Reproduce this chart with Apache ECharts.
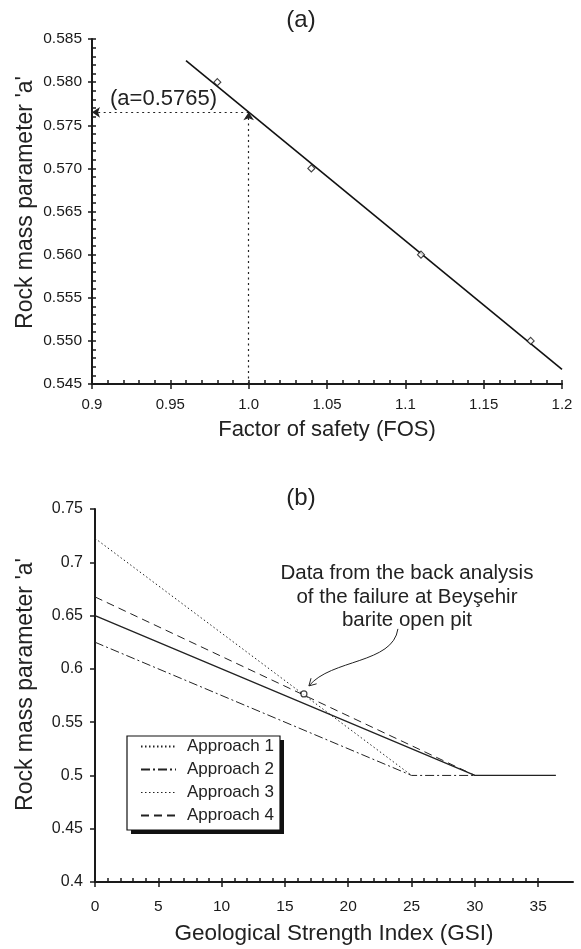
<!DOCTYPE html>
<html><head><meta charset="utf-8">
<script src="https://cdn.jsdelivr.net/npm/echarts@6/dist/echarts.min.js"></script>
<style>html,body{margin:0;padding:0;background:#fff}#c{width:581px;height:949px}</style>
</head><body><div id="c"></div>
<script>
// ---------- panel (a) ----------
const fosPoints = [0.98, 1.04, 1.11, 1.18];
const aPoints = [0.580, 0.570, 0.560, 0.550];
const fitFos = [0.96, 1.2];
const fitA = [0.5825, 0.5467];
const fosTarget = 1.0;
const aTarget = 0.5765;
const fosTickLabels = ['0.9', '0.95', '1.0', '1.05', '1.1', '1.15', '1.2'];
const aTickLabels = ['0.545', '0.550', '0.555', '0.560', '0.565', '0.570', '0.575', '0.580', '0.585'];
// ---------- panel (b) ----------
const gsi1 = [0, 25],      app1 = [0.7225, 0.5];
const gsi2 = [0, 25, 30],  app2 = [0.625, 0.5, 0.5];
const gsi3 = [0, 30, 36.4], app3 = [0.65, 0.5, 0.5];
const gsi4 = [0, 30],      app4 = [0.6675, 0.5];
const backGsi = 16.5, backA = 0.5765;
const gsiTickLabels = ['0', '5', '10', '15', '20', '25', '30', '35'];
const gsiMinorTicks = [1,2,3,4,5,6,7,8,9,10,11,12,13,14,15,16,17,18,19,20,21,22,23,24,25,26,27,28,29,30,31,32,33,34,35];
const bTickLabels = ['0.4', '0.45', '0.5', '0.55', '0.6', '0.65', '0.7', '0.75'];
const approachNames = ['Approach 1', 'Approach 2', 'Approach 3', 'Approach 4'];

const FONT = 'Liberation Sans, Arial, Helvetica, sans-serif';
const INK = '#1a1a1a';
const zip = (xs, ys) => xs.map((x, i) => [x, ys[i]]);

const chart = echarts.init(document.getElementById('c'), null, {renderer: 'canvas'});

const baseAxis = {
  splitLine: {show: false},
  axisLine: {onZero: false, lineStyle: {color: INK, width: 2}},
  nameMoveOverlap: false
};
const tickStyle = {color: INK, width: 1.5};

const option = {
  animation: false,
  backgroundColor: '#fff',
  textStyle: {fontFamily: FONT, color: INK},
  title: [
    {text: '(a)', left: 296, top: 3, textAlign: 'center', textStyle: {fontFamily: FONT, fontSize: 24, fontWeight: 'normal', color: '#222'}},
    {text: '(b)', left: 296, top: 481, textAlign: 'center', textStyle: {fontFamily: FONT, fontSize: 24, fontWeight: 'normal', color: '#222'}}
  ],
  grid: [
    {left: 92, top: 39, width: 470, height: 345, outerBoundsMode: 'none', containLabel: false},
    {left: 95, top: 509, width: 478, height: 373, outerBoundsMode: 'none', containLabel: false}
  ],
  legend: {
    data: approachNames.map(n => n === 'Approach 3' ? {name: n, lineStyle: {type: [1.5, 2.5], width: 1}} : n),
    orient: 'vertical', left: 127, top: 736,
    itemWidth: 35, itemHeight: 14, itemGap: 6,
    padding: [2, 6, 6, 13],
    backgroundColor: 'transparent', borderWidth: 0,
    itemStyle: {opacity: 0},
    selectedMode: false,
    textStyle: {fontFamily: FONT, fontSize: 17, color: '#222', padding: [0, 0, 0, 6]}
  },
  xAxis: [
    Object.assign({}, baseAxis, {
      gridIndex: 0, type: 'value', position: 'bottom', min: 0.9, max: 1.2, interval: 0.05,
      axisTick: {show: true, inside: false, length: 5, lineStyle: tickStyle},
      minorTick: {show: false},
      axisLabel: {fontFamily: FONT, fontSize: 15, color: INK, margin: 13,
        formatter: v => fosTickLabels[Math.round((v - 0.9) / 0.05)]},
      name: 'Factor of safety (FOS)', nameLocation: 'middle', nameGap: 35,
      nameTextStyle: {fontFamily: FONT, fontSize: 22, color: '#222'}
    }),
    Object.assign({}, baseAxis, {
      gridIndex: 0, type: 'value', position: 'bottom', min: 0.9, max: 1.2, interval: 0.05,
      axisLine: {show: false, onZero: false},
      axisTick: {show: true, inside: true, length: 4, lineStyle: tickStyle},
      minorTick: {show: true, splitNumber: 5, length: 4, lineStyle: tickStyle},
      axisLabel: {show: false}
    }),
    Object.assign({}, baseAxis, {
      gridIndex: 1, type: 'value', position: 'bottom', min: 0, max: 37.75, interval: 5,
      axisTick: {show: true, inside: false, length: 5, customValues: gsiTickLabels.map(Number), lineStyle: tickStyle},
      axisLabel: {fontFamily: FONT, fontSize: 15.5, color: INK, margin: 17, customValues: gsiTickLabels.map(Number),
        formatter: v => gsiTickLabels[Math.round(v / 5)]},
      name: 'Geological Strength Index (GSI)', nameLocation: 'middle', nameGap: 40,
      nameTextStyle: {fontFamily: FONT, fontSize: 22.5, color: '#222'}
    }),
    Object.assign({}, baseAxis, {
      gridIndex: 1, type: 'value', position: 'bottom', min: 0, max: 37.75, interval: 5,
      axisLine: {show: false, onZero: false},
      axisTick: {show: true, inside: true, length: 4, customValues: gsiMinorTicks, lineStyle: tickStyle},
      axisLabel: {show: false}
    })
  ],
  yAxis: [
    Object.assign({}, baseAxis, {
      gridIndex: 0, type: 'value', position: 'left', min: 0.545, max: 0.585, interval: 0.005,
      axisTick: {show: true, inside: false, length: 4, lineStyle: tickStyle},
      axisLabel: {fontFamily: FONT, fontSize: 15.5, color: INK, margin: 10,
        formatter: v => aTickLabels[Math.round((v - 0.545) / 0.005)]},
      name: "Rock mass parameter 'a'", nameLocation: 'middle', nameGap: 55, nameRotate: 90,
      nameTextStyle: {fontFamily: FONT, fontSize: 23, color: '#222', padding: [0, 0, 0, 18]}
    }),
    Object.assign({}, baseAxis, {
      gridIndex: 0, type: 'value', position: 'left', min: 0.545, max: 0.585, interval: 0.005,
      axisLine: {show: false, onZero: false},
      axisTick: {show: true, inside: true, length: 4, lineStyle: tickStyle},
      minorTick: {show: true, splitNumber: 5, length: 4, lineStyle: tickStyle},
      axisLabel: {show: false}
    }),
    Object.assign({}, baseAxis, {
      gridIndex: 1, type: 'value', position: 'left', min: 0.4, max: 0.75, interval: 0.05,
      axisTick: {show: true, inside: false, length: 5, lineStyle: tickStyle},
      axisLabel: {fontFamily: FONT, fontSize: 16, color: INK, margin: 12,
        formatter: v => bTickLabels[Math.round((v - 0.4) / 0.05)]},
      name: "Rock mass parameter 'a'", nameLocation: 'middle', nameGap: 58, nameRotate: 90,
      nameTextStyle: {fontFamily: FONT, fontSize: 23, color: '#222', padding: [0, 0, 0, 22]}
    })
  ],
  series: [
    {type: 'line', name: 'fit', xAxisIndex: 0, yAxisIndex: 0, data: zip(fitFos, fitA),
      symbol: 'none', lineStyle: {color: '#111', width: 1.6}, z: 3},
    {type: 'scatter', name: 'FOS points', xAxisIndex: 0, yAxisIndex: 0, data: zip(fosPoints, aPoints),
      symbol: 'diamond', symbolSize: 7, itemStyle: {color: '#fff', borderColor: '#111', borderWidth: 1.1}, z: 4},
    {type: 'lines', name: 'guide', coordinateSystem: 'cartesian2d', xAxisIndex: 0, yAxisIndex: 0,
      symbol: ['none', 'arrow'], symbolSize: 8,
      lineStyle: {color: '#222', width: 1.2, type: [2, 3.5], opacity: 1},
      data: [
        {coords: [[fosTarget, 0.545], [fosTarget, aTarget]]},
        {coords: [[fosTarget, aTarget], [0.9, aTarget]]}
      ]},
    {type: 'line', name: 'Approach 1', xAxisIndex: 2, yAxisIndex: 2, data: zip(gsi1, app1),
      symbol: 'none', color: '#222', lineStyle: {color: '#222', width: 1, type: [1.5, 2.5]}},
    {type: 'line', name: 'Approach 2', xAxisIndex: 2, yAxisIndex: 2, data: zip(gsi2, app2),
      symbol: 'none', color: '#222', lineStyle: {color: '#222', width: 1, type: [9, 3, 2, 3]}},
    {type: 'line', name: 'Approach 3', xAxisIndex: 2, yAxisIndex: 2, data: zip(gsi3, app3),
      symbol: 'none', color: '#222', lineStyle: {color: '#222', width: 1.3}},
    {type: 'line', name: 'Approach 4', xAxisIndex: 2, yAxisIndex: 2, data: zip(gsi4, app4),
      symbol: 'none', color: '#222', lineStyle: {color: '#222', width: 1, type: [8, 5]}},
    {type: 'scatter', name: 'back analysis', xAxisIndex: 2, yAxisIndex: 2, data: [[backGsi, backA]],
      symbol: 'circle', symbolSize: 6, itemStyle: {color: '#fff', borderColor: '#111', borderWidth: 1.2}, z: 5}
  ]
};
chart.setOption(option);

// annotations anchored to data coordinates
const pa = chart.convertToPixel({xAxisIndex: 0, yAxisIndex: 0}, [0.9, aTarget]);
const pb = chart.convertToPixel({xAxisIndex: 2, yAxisIndex: 2}, [backGsi, backA]);
const tip = [pb[0] + 5, pb[1] - 8];
// legend frame (layout box of the legend)
const LX = 127, LY = 736, LW = 153, LH = 94;
chart.setOption({
  graphic: [
    {type: 'rect', z: 1, shape: {x: LX + 4, y: LY + 4, width: LW, height: LH}, style: {fill: '#111'}},
    {type: 'rect', z: 2, shape: {x: LX, y: LY, width: LW, height: LH}, style: {fill: '#fff', stroke: '#111', lineWidth: 1.2}},
    {type: 'text', x: pa[0] + 18, y: pa[1] - 13,
      style: {text: '(a=0.5765)', font: '22px ' + FONT, fill: '#222', align: 'left', verticalAlign: 'middle'}},
    {type: 'text', x: pb[0] + 103, y: pb[1] - 132,
      style: {text: 'Data from the back analysis\nof the failure at Beyşehir\nbarite open pit', font: '20.5px ' + FONT,
        fill: '#222', align: 'center', verticalAlign: 'top', lineHeight: 23.5}},
    {type: 'bezierCurve',
      shape: {x1: pb[0] + 94, y1: pb[1] - 65, cpx1: pb[0] + 89, cpy1: pb[1] - 30, cpx2: pb[0] + 27, cpy2: pb[1] - 35, x2: tip[0], y2: tip[1]},
      style: {stroke: '#222', fill: null, lineWidth: 1}},
    {type: 'polyline',
      shape: {points: [[tip[0] + 7.7, tip[1] - 2.1], tip, [tip[0] + 2.1, tip[1] - 7.7]]},
      style: {stroke: '#222', fill: null, lineWidth: 1}}
  ]
});
</script>
</body></html>
